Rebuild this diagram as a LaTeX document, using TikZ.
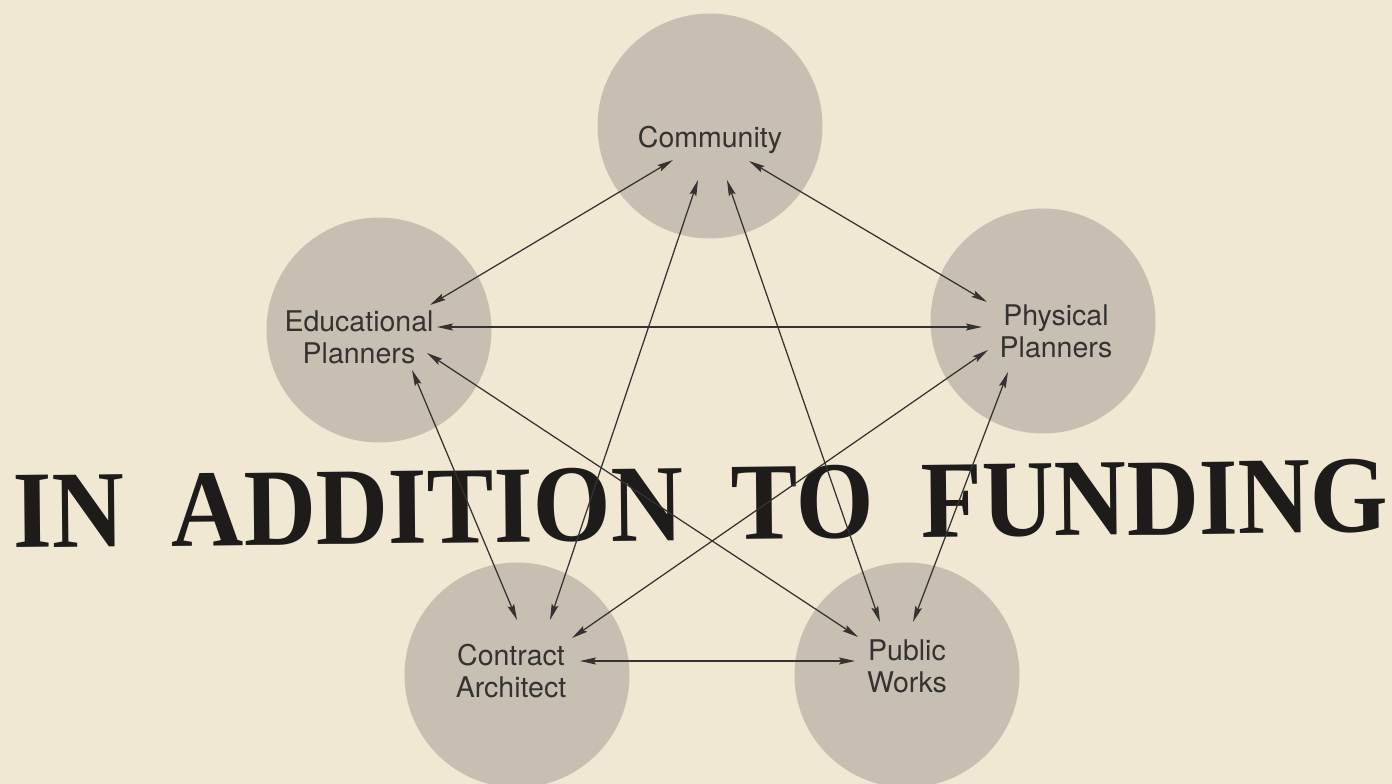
\documentclass[tikz,border=0pt]{standalone}
\usepackage{fontspec}
\setmainfont{TeX Gyre Heros}
\newfontfamily\titlefont[WordSpace=1.9]{Liberation Serif}
\usetikzlibrary{arrows.meta}
\definecolor{bg}{HTML}{F0E8D3}
\definecolor{disc}{HTML}{C6BFB2}
\definecolor{ink}{HTML}{353331}
\definecolor{titleink}{HTML}{1E1C1A}
\begin{document}
\begin{tikzpicture}[x=1pt,y=-1pt,
  disc/.style={circle,fill=disc,minimum size=225pt,inner sep=0pt},
  lbl/.style={font=\fontsize{28.5}{32}\selectfont,text=ink,align=center,inner sep=0pt,anchor=base},
  link/.style={draw=ink,line width=1.25pt,{Stealth[length=16pt,width=7pt,inset=2.5pt]}-{Stealth[length=16pt,width=7pt,inset=2.5pt]}}]
\fill[bg] (0,0) rectangle (1392,784);
\useasboundingbox (0,0) rectangle (1392,784);
% circles
\node[disc] (c-com) at (710,126) {};
\node[disc] (c-edu) at (379,330) {};
\node[disc] (c-phy) at (1043,321) {};
\node[disc] (c-con) at (517,675) {};
\node[disc] (c-pub) at (907,675) {};
% labels
\node[lbl] (com) at (710,147) {Community};
\node[lbl] (edu) at (359,363) {Educational\\Planners};
\node[lbl] (phy) at (1056,357) {Physical\\Planners};
\node[lbl] (con) at (511,697) {Contract\\Architect};
\node[lbl] (pub) at (907,692) {Public\\Works};
% title
\node[anchor=base,inner sep=0pt,xscale=0.91,rotate=0.6,text=titleink,
      font=\titlefont\bfseries\fontsize{110}{110}\selectfont] (title) at (701,540) {IN ADDITION TO FUNDING};
% arrow end points
\coordinate (com-edu) at (673,160);  \coordinate (edu-com) at (430,305);
\coordinate (com-con) at (698,180);  \coordinate (con-com) at (550,620);
\coordinate (com-pub) at (727,180);  \coordinate (pub-com) at (880,622);
\coordinate (com-phy) at (749,161);  \coordinate (phy-com) at (987,302);
\coordinate (edu-phy) at (437,327);  \coordinate (phy-edu) at (982,327);
\coordinate (edu-pub) at (427,353);  \coordinate (pub-edu) at (858,637);
\coordinate (edu-con) at (412,370);  \coordinate (con-edu) at (517,620);
\coordinate (phy-con) at (988,350);  \coordinate (con-phy) at (572,638);
\coordinate (phy-pub) at (1008,372); \coordinate (pub-phy) at (913,622);
\coordinate (con-pub) at (580,661);  \coordinate (pub-con) at (855,661);
% connectors
\draw[link] (com-edu) -- (edu-com);
\draw[link] (com-con) -- (con-com);
\draw[link] (com-pub) -- (pub-com);
\draw[link] (com-phy) -- (phy-com);
\draw[link] (edu-phy) -- (phy-edu);
\draw[link] (edu-pub) -- (pub-edu);
\draw[link] (edu-con) -- (con-edu);
\draw[link] (phy-con) -- (con-phy);
\draw[link] (phy-pub) -- (pub-phy);
\draw[link] (con-pub) -- (pub-con);
\end{tikzpicture}
\end{document}
